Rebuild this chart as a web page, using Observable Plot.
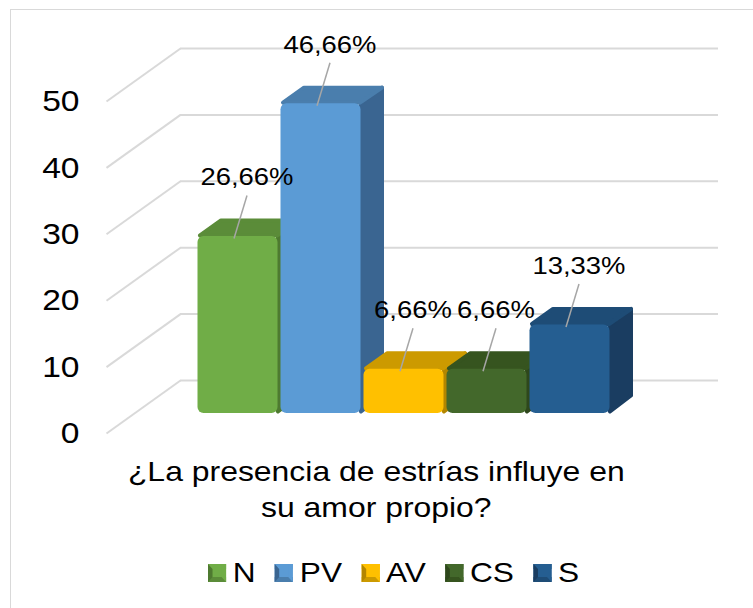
<!DOCTYPE html>
<html>
<head>
<meta charset="utf-8">
<script src="https://cdn.jsdelivr.net/npm/d3@7"></script>
<script src="https://cdn.jsdelivr.net/npm/@observablehq/plot@0.6"></script>
<style>
html, body { margin: 0; padding: 0; background: #fff; overflow: hidden; }
body { width: 753px; height: 608px; position: relative; font-family: "Liberation Sans", Arial, sans-serif; color: #000; }
#frame { position: absolute; left: 10px; top: 9px; width: 800px; height: 660px; border: 1px solid #d9d9d9; box-sizing: border-box; }
#chart { position: absolute; left: 0; top: 0; }
#caption { position: absolute; left: 0; top: 454px; width: 753px; text-align: center; font-size: 28px; line-height: 36px; transform: scaleX(1.14); transform-origin: 378px 0; }
#legend { position: absolute; left: 208px; top: 555px; display: flex; align-items: center; transform: scaleX(1.13); transform-origin: 0 0; font-size: 28px; line-height: 36px; white-space: nowrap; }
.item { display: flex; align-items: center; margin-right: 17px; }
.sw { width: 16px; height: 18px; box-sizing: border-box; border-style: solid; border-width: 5px 4px; margin-right: 6px; }
</style>
</head>
<body>
<div id="frame"></div>
<div id="chart"></div>
<div id="caption"></div>
<div id="legend"></div>
<script>
// ---- data ----
const categories = ["N", "PV", "AV", "CS", "S"];
const values = [26.66, 46.66, 6.66, 6.66, 13.33];
const valueLabels = ["26,66%", "46,66%", "6,66%", "6,66%", "13,33%"];
const frontColors = ["#70AD47", "#5B9BD5", "#FFC000", "#43682B", "#255E91"];
const topColors = ["#5B8C39", "#4A7EAD", "#CC9A00", "#36541F", "#1E4C76"];
const sideColors = ["#4E7A30", "#3A6591", "#B38600", "#2E471C", "#1A3D61"];
const yTicks = [0, 10, 20, 30, 40, 50];
const captionLines = ["¿La presencia de estrías influye en", "su amor propio?"];

// ---- layout ----
const W = 753, H = 450;
const ML = 137, MR = 78, MT = 81, MB = 37;
const PAD_L = 59, PAD_R = 64, SLOT = 83;
const XMIN = -0.5 - PAD_L / SLOT;
const XMAX = categories.length - 0.5 + PAD_R / SLOT;
const YMAX = d3.max(yTicks);
const KX = (W - ML - MR) / (XMAX - XMIN);
const KY = (H - MT - MB) / YMAX;
const px = (d) => d / KX;      // pixel shift -> x data units
const py = (d) => -d / KY;     // pixel shift (down +) -> y data units
const BACK = {dx: 43, dy: -33};
const FRONT = {dx: -31, dy: 20};
const DEPTH = {dx: 21, dy: -16};
const GAP = 1.5;
const GRID = "#d9d9d9";
const STRETCH = 1.12;

const bars = categories.map((c, i) => ({
  i, cat: c, value: values[i], label: valueLabels[i],
  front: frontColors[i], top: topColors[i], side: sideColors[i],
  x0: i - 0.5 + px(GAP), x1: i + 0.5 - px(GAP)
}));

const sidePts = bars.flatMap(b => [
  {id: b.cat, color: b.side, x: b.x1, y: py(-2)},
  {id: b.cat, color: b.side, x: b.x1, y: b.value},
  {id: b.cat, color: b.side, x: b.x1 + px(DEPTH.dx), y: b.value + py(DEPTH.dy)},
  {id: b.cat, color: b.side, x: b.x1 + px(DEPTH.dx), y: py(DEPTH.dy - 2)}
]);
const topPts = bars.flatMap(b => [
  {id: b.cat, color: b.top, x: b.x0 + px(2), y: b.value + py(-1)},
  {id: b.cat, color: b.top, x: b.x1 - px(1), y: b.value + py(-1)},
  {id: b.cat, color: b.top, x: b.x1 + px(DEPTH.dx), y: b.value + py(DEPTH.dy)},
  {id: b.cat, color: b.top, x: b.x0 + px(DEPTH.dx + 2), y: b.value + py(DEPTH.dy)}
]);

const LBL_DX = 9, LBL_DY = -59;

const svg = Plot.plot({
  width: W, height: H,
  marginLeft: ML, marginRight: MR, marginTop: MT, marginBottom: MB,
  x: {domain: [XMIN, XMAX], axis: null},
  y: {domain: [0, YMAX], axis: null},
  color: {type: "identity"},
  style: {background: "transparent", fontFamily: "'Liberation Sans', Arial, sans-serif", color: "#000", overflow: "visible"},
  marks: [
    Plot.ruleY(yTicks, {y: d => d, dx: BACK.dx, dy: BACK.dy, stroke: GRID, strokeWidth: 2}),
    Plot.link(yTicks, {
      x1: () => XMIN + px(FRONT.dx), y1: t => t + py(FRONT.dy),
      x2: () => XMIN + px(BACK.dx), y2: t => t + py(BACK.dy),
      stroke: GRID, strokeWidth: 2
    }),
    Plot.text(yTicks, {y: d => d, text: d => String(d), frameAnchor: "left", textAnchor: "end", dx: -58, dy: 20, fontSize: 30, fill: "#000"}),
    Plot.line(sidePts, {x: "x", y: "y", z: "id", fill: "color", stroke: "color", strokeWidth: 4, strokeLinejoin: "round", curve: "linear-closed"}),
    Plot.line(topPts, {x: "x", y: "y", z: "id", fill: "color", stroke: "color", strokeWidth: 4, strokeLinejoin: "round", curve: "linear-closed"}),
    Plot.rect(bars, {x1: "x0", x2: "x1", y1: () => 0, y2: "value", fill: "front", rx: 6}),
    Plot.link(bars, {
      x1: b => b.i + px(LBL_DX), y1: b => b.value + py(LBL_DY + 18),
      x2: b => b.i + px(-4), y2: b => b.value + py(2),
      stroke: "#a6a6a6", strokeWidth: 1.5
    }),
    Plot.text(bars, {x: "i", y: "value", text: "label", dx: LBL_DX, dy: LBL_DY, fontSize: 24.5, fill: "#000"})
  ]
});

svg.querySelectorAll("text").forEach(t => {
  const tr = t.getAttribute("transform");
  if (tr) {
    t.setAttribute("transform", tr + ` scale(${STRETCH},1)`);
  } else {
    const x = +t.getAttribute("x") || 0, y = +t.getAttribute("y") || 0;
    t.removeAttribute("x"); t.removeAttribute("y");
    t.setAttribute("transform", `translate(${x},${y}) scale(${STRETCH},1)`);
  }
});
document.getElementById("chart").appendChild(svg);

// caption
const cap = document.getElementById("caption");
captionLines.forEach((l, k) => {
  if (k) cap.appendChild(document.createElement("br"));
  cap.appendChild(document.createTextNode(l));
});

// legend
const leg = document.getElementById("legend");
categories.forEach((c, i) => {
  const it = document.createElement("div");
  it.className = "item";
  const sw = document.createElement("span");
  sw.className = "sw";
  sw.style.background = frontColors[i];
  sw.style.borderLeftColor = sideColors[i];
  sw.style.borderBottomColor = topColors[i];
  sw.style.borderTopColor = frontColors[i];
  sw.style.borderRightColor = frontColors[i];
  const tx = document.createElement("span");
  tx.textContent = c;
  it.appendChild(sw); it.appendChild(tx);
  leg.appendChild(it);
});
</script>
</body>
</html>
